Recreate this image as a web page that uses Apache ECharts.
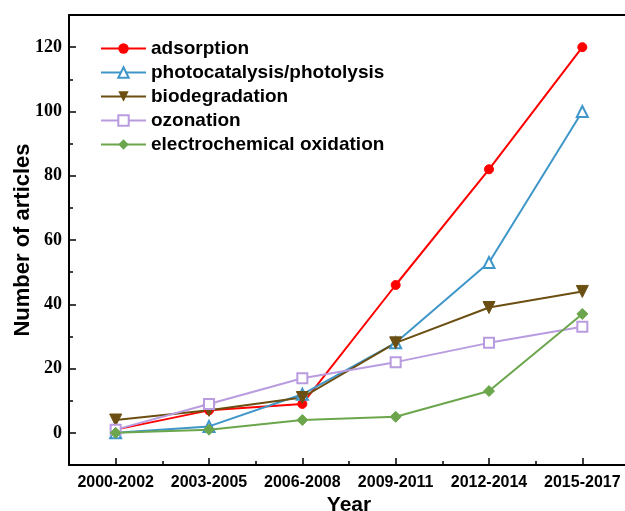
<!DOCTYPE html>
<html><head><meta charset="utf-8">
<script src="https://cdn.jsdelivr.net/npm/echarts@6/dist/echarts.min.js"></script>
<style>html,body{margin:0;padding:0;background:#fff}#c{width:625px;height:511px}</style>
</head><body><div id="c"></div>
<script>
const categories = ['2000-2002','2003-2005','2006-2008','2009-2011','2012-2014','2015-2017'];
const adsorption = [1, 7, 9, 46, 82, 120];
const photocatalysis = [0, 2, 12, 28, 53, 100];
const biodegradation = [4, 7, 11, 28, 39, 44];
const ozonation = [1, 9, 17, 22, 28, 33];
const electrochemical = [0, 1, 4, 5, 13, 37];
const yTickLabels = [0, 20, 40, 60, 80, 100, 120];
const yMinorTicks = [10, 30, 50, 70, 90, 110];

const catIdx = categories.map((c, i) => i);
const xMinor = categories.slice(0, -1).map((c, i) => i + 0.5);
const toPts = arr => arr.map((v, i) => [i, v]);

const chart = echarts.init(document.getElementById('c'), null, {renderer: 'canvas'});
const axisLineStyle = {color: '#000', width: 2};
const sansBold = {fontFamily: 'Liberation Sans, Arial, sans-serif', fontWeight: 'bold', color: '#000'};

function series(name, data, color, symbol, size, filled) {
  return {
    name, type: 'line', data: toPts(data), symbol, symbolSize: size,
    lineStyle: {color, width: 2},
    itemStyle: filled ? {color, borderColor: color} : {color: '#fff', borderColor: color, borderWidth: 2},
    color, z: 3
  };
}

chart.setOption({
  animation: false,
  backgroundColor: '#fff',
  grid: {left: 69, top: 15, right: -4, bottom: 46, containLabel: false, outerBoundsMode: 'none'},
  legend: {
    orient: 'vertical', left: 95, top: 34, itemWidth: 45, itemHeight: 13, itemGap: 5,
    textStyle: Object.assign({fontSize: 19, lineHeight: 16}, sansBold),
    data: ['adsorption', 'photocatalysis/photolysis', 'biodegradation', 'ozonation', 'electrochemical oxidation']
  },
  xAxis: [
    {
      type: 'value', min: -0.5, max: 5.5, position: 'bottom',
      name: 'Year', nameLocation: 'middle', nameGap: 30, nameMoveOverlap: false,
      nameTextStyle: Object.assign({fontSize: 21}, sansBold),
      axisLine: {show: true, onZero: false, lineStyle: axisLineStyle},
      axisTick: {show: true, inside: true, length: 7, customValues: catIdx, lineStyle: {color: '#000', width: 1.5}},
      axisLabel: Object.assign({fontSize: 16, margin: 10, customValues: catIdx, formatter: v => categories[Math.round(v)] || ''}, sansBold),
      splitLine: {show: false}
    },
    {
      type: 'value', min: -0.5, max: 5.5, position: 'bottom',
      axisLine: {show: false, onZero: false},
      axisTick: {show: true, inside: true, length: 4, customValues: xMinor, lineStyle: {color: '#000', width: 1.5}},
      axisLabel: {show: false}, splitLine: {show: false}
    },
    {
      type: 'value', min: -0.5, max: 5.5, position: 'top',
      axisLine: {show: true, onZero: false, lineStyle: axisLineStyle},
      axisTick: {show: false}, axisLabel: {show: false}, splitLine: {show: false}
    }
  ],
  yAxis: [
    {
      type: 'value', min: -10, max: 130, position: 'left',
      name: 'Number of articles', nameLocation: 'middle', nameGap: 35, nameMoveOverlap: false,
      nameTextStyle: Object.assign({fontSize: 22}, sansBold),
      axisLine: {show: true, onZero: false, lineStyle: axisLineStyle},
      axisTick: {show: true, inside: true, length: 7, customValues: yTickLabels, lineStyle: {color: '#000', width: 1.5}},
      axisLabel: {fontSize: 18, fontFamily: 'Liberation Serif, Times New Roman, serif', fontWeight: 'bold', color: '#000', margin: 7, customValues: yTickLabels},
      splitLine: {show: false}
    },
    {
      type: 'value', min: -10, max: 130, position: 'left',
      axisLine: {show: false, onZero: false},
      axisTick: {show: true, inside: true, length: 4, customValues: yMinorTicks, lineStyle: {color: '#000', width: 1.5}},
      axisLabel: {show: false}, splitLine: {show: false}
    }
  ],
  series: [
    series('adsorption', adsorption, '#ff0000', 'circle', 9, true),
    series('photocatalysis/photolysis', photocatalysis, '#3f96c9', 'triangle', 11, false),
    series('biodegradation', biodegradation, '#6b4f12', 'path://M0,0 L10,0 L5,9 Z', 12, true),
    series('ozonation', ozonation, '#b99be0', 'rect', 10, false),
    series('electrochemical oxidation', electrochemical, '#6ca64c', 'diamond', 11, true)
  ]
});
</script></body></html>
